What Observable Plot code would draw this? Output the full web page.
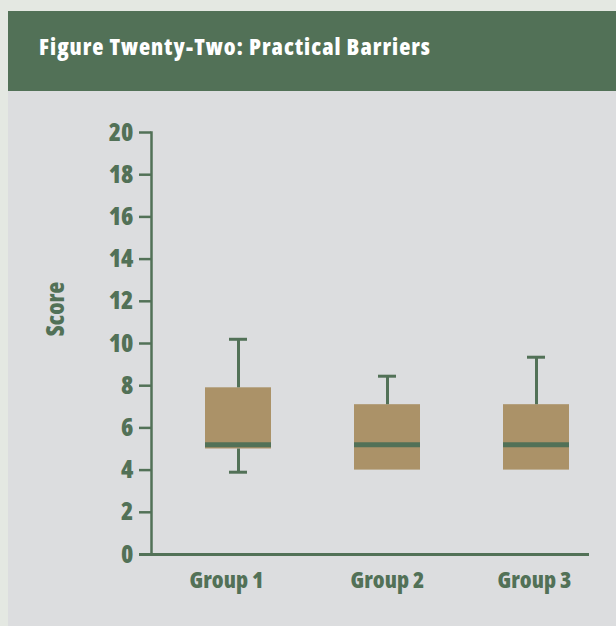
<!DOCTYPE html>
<html>
<head>
<meta charset="utf-8">
<script src="https://cdn.jsdelivr.net/npm/d3@7"></script>
<script src="https://cdn.jsdelivr.net/npm/@observablehq/plot@0.6"></script>
<style>
  html, body { margin: 0; padding: 0; }
  body { width: 616px; height: 626px; background: #e4e8e2; position: relative; overflow: hidden;
         font-family: "Open Sans", sans-serif; font-stretch: 75%; font-weight: 800; }
  #header { position: absolute; left: 8px; top: 11px; width: 608px; height: 80px; background: #527157; }
  #title { position: absolute; left: 31px; top: 24px; font-size: 23px; line-height: 23px; letter-spacing: 1px; color: #ffffff; white-space: nowrap; }
  #panel { position: absolute; left: 8px; top: 91px; width: 608px; height: 535px; background: #dcdddf; }
  #panel svg { font-stretch: 75%; }
  #ylabel { position: absolute; left: 55px; top: 309px; width: 0; height: 0; }
  #ylabel span { position: absolute; transform: translate(-50%, -50%) rotate(-90deg); font-size: 24px; line-height: 24px; color: #527157; white-space: nowrap; }
</style>
</head>
<body>
<div id="header"><div id="title">Figure Twenty-Two: Practical Barriers</div></div>
<div id="panel"></div>
<div id="ylabel"><span>Score</span></div>
<script>
const groups = ["Group 1", "Group 2", "Group 3"];
const minVals = [3.9, 4.0, 4.0];
const q1Vals = [5.0, 4.0, 4.0];
const medianVals = [5.2, 5.2, 5.2];
const q3Vals = [7.9, 7.1, 7.1];
const maxVals = [10.2, 8.45, 9.35];
const yTicks = [0, 2, 4, 6, 8, 10, 12, 14, 16, 18, 20];

const green = "#527157";
const tan = "#ab9268";

const data = groups.map((g, i) => ({
  group: g, min: minVals[i], q1: q1Vals[i], median: medianVals[i], q3: q3Vals[i], max: maxVals[i]
}));
const lowerWhiskers = data.filter(d => d.min < d.q1);

const xLabelStyle = { tickSize: 0, tickPadding: 17, fontSize: 23, label: null };

const chart = Plot.plot({
  width: 608,
  height: 535,
  marginTop: 41,
  marginBottom: 72,
  marginLeft: 143,
  marginRight: 27,
  style: { background: "transparent", color: green, fontFamily: '"Open Sans", sans-serif', fontWeight: "800", fontStretch: "75%" },
  x: { domain: groups, range: [167, 591], paddingInner: 0.557, paddingOuter: 0.2 },
  y: { domain: [0, 20] },
  marks: [
    Plot.barY(data, { x: "group", y1: "q1", y2: "q3", fill: tan }),
    Plot.ruleX(data, { x: "group", y1: "q3", y2: "max", stroke: green, strokeWidth: 3 }),
    Plot.tickY(data, { x: "group", y: "max", stroke: green, strokeWidth: 3, insetLeft: 24, insetRight: 24 }),
    Plot.ruleX(lowerWhiskers, { x: "group", y1: "min", y2: "q1", stroke: green, strokeWidth: 3 }),
    Plot.tickY(lowerWhiskers, { x: "group", y: "min", stroke: green, strokeWidth: 3, insetLeft: 24, insetRight: 24 }),
    Plot.tickY(data, { x: "group", y: "median", stroke: green, strokeWidth: 5 }),
    Plot.axisY(yTicks, { tickSize: 12, tickPadding: 6, stroke: green, strokeWidth: 2.5, fontSize: 25, label: null }),
    Plot.axisX([groups[0]], { ...xLabelStyle, dx: -12 }),
    Plot.axisX([groups[1]], { ...xLabelStyle }),
    Plot.axisX([groups[2]], { ...xLabelStyle, dx: -2 }),
    Plot.frame({ anchor: "left", stroke: green, strokeWidth: 2.5 }),
    Plot.ruleY([0], { stroke: green, strokeWidth: 3, insetLeft: -12 })
  ]
});
document.getElementById("panel").appendChild(chart);
</script>
</body>
</html>
